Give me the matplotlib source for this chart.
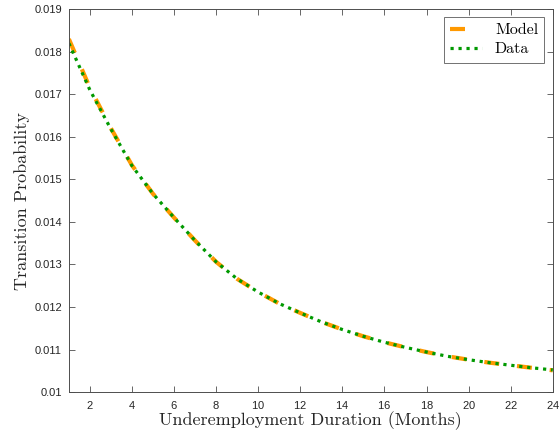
import matplotlib
matplotlib.use("Agg")
import matplotlib.pyplot as plt
from matplotlib.ticker import FuncFormatter

# Monthly transition probabilities
months = list(range(1, 25))
model = [0.01830, 0.01715, 0.01620, 0.01533, 0.01466, 0.01410, 0.01356, 0.01306,
         0.01266, 0.01235, 0.01208, 0.01186, 0.01165, 0.01147, 0.01131, 0.01117,
         0.01105, 0.01094, 0.01084, 0.01076, 0.01069, 0.01063, 0.01057, 0.01051]
data = [0.01820, 0.01710, 0.01618, 0.01532, 0.01466, 0.01410, 0.01356, 0.01306,
        0.01266, 0.01235, 0.01208, 0.01186, 0.01165, 0.01147, 0.01131, 0.01117,
        0.01105, 0.01094, 0.01084, 0.01076, 0.01069, 0.01063, 0.01057, 0.01052]

xticks = list(range(2, 25, 2))
yticks = [0.010, 0.011, 0.012, 0.013, 0.014, 0.015, 0.016, 0.017, 0.018, 0.019]

SERIF = ['cmr10', 'DejaVu Serif']
AXCOL = '#4d4d4d'

plt.rcParams['font.family'] = ['Liberation Sans', 'DejaVu Sans']
plt.rcParams['axes.formatter.use_mathtext'] = True

fig = plt.figure(figsize=(5.6, 4.4), dpi=100)
ax = fig.add_axes([0.123, 0.109, 0.864, 0.870])

ax.plot(months, model, color='#FF9900', linewidth=3.0, linestyle=(0, (3.6, 4.3)),
        label='Model')
ax.plot(months, data, color='#009900', linewidth=2.3, linestyle=(0, (1, 1.5)),
        label='Data')

ax.set_xlim(1, 24)
ax.set_ylim(0.01, 0.019)
ax.set_xticks(xticks)
ax.set_yticks(yticks)
ax.yaxis.set_major_formatter(FuncFormatter(lambda v, _: f"{v:g}"))

ax.tick_params(direction='in', top=True, right=True, length=4, width=0.6,
               color=AXCOL, labelsize=8, labelcolor='#262626', pad=5)
for sp in ax.spines.values():
    sp.set_color(AXCOL)
    sp.set_linewidth(0.7)

ax.set_xlabel('Underemployment Duration (Months)', family=SERIF, fontsize=13,
              color='#262626', labelpad=0)
ax.set_ylabel('Transition Probability', family=SERIF, fontsize=13,
              color='#262626', labelpad=3)

leg = ax.legend(loc='upper right', bbox_to_anchor=(0.983, 0.98), prop={'family': SERIF, 'size': 11.5},
                frameon=True, fancybox=False, handlelength=2.0, borderpad=0.4,
                labelspacing=0.3, handletextpad=0.8, borderaxespad=0)
leg.get_frame().set_edgecolor(AXCOL)
leg.get_frame().set_linewidth(0.7)

fig.savefig('out.png', dpi=100)
